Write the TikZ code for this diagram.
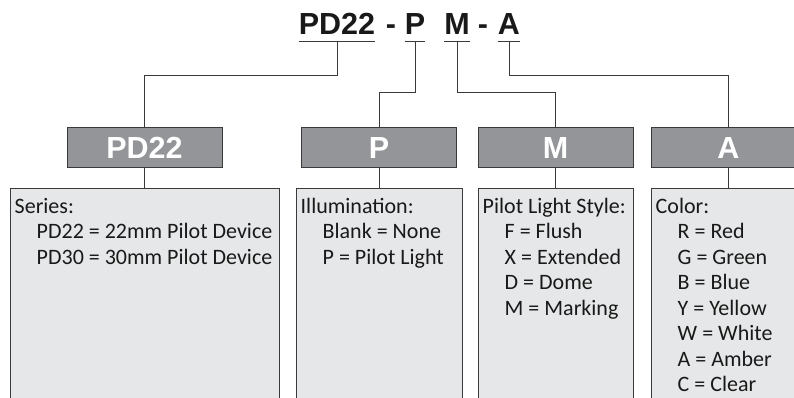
\documentclass[tikz,border=0pt]{standalone}
\usepackage{fontspec}
\setmainfont{Carlito}
\newfontfamily\codefont{Liberation Sans}
\usetikzlibrary{calc}

\definecolor{hdrgray}{HTML}{939598}
\definecolor{boxgray}{HTML}{E6E7E8}
\definecolor{linegray}{HTML}{3A3A3A}

\tikzset{
  code/.style={inner sep=0pt, anchor=base, text=black!90, font=\codefont\bfseries\fontsize{30.5}{30.5}\selectfont},
  hdr/.style={draw=linegray, line width=1pt, fill=hdrgray, minimum width=155pt, minimum height=40pt, inner sep=0pt, text=white, font=\codefont\bfseries\fontsize{30.5}{30.5}\selectfont},
  info/.style={draw=linegray, line width=1pt, fill=boxgray, anchor=north, minimum height=240pt, inner sep=0pt},
  infotext/.style={anchor=north west, inner xsep=5pt, inner ysep=0pt, align=left, text=black!90, font=\fontsize{22}{25.5}\selectfont},
  link/.style={draw=linegray, line width=1pt}
}
\newcommand{\sub}{\\\hspace*{22pt}}

\begin{document}
\begin{tikzpicture}[x=1pt,y=-1pt]
\useasboundingbox (0,0) rectangle (794,398);
\clip (0,0) rectangle (794,398);

% the ordering code
\node[code] (cSeries) at (337,35) {PD22};
\node[code] (dashA) at (391,35) {-};
\node[code] (cIllum) at (415,35) {P};
\node[code] (cStyle) at (457,35) {M};
\node[code] (dashB) at (483,35) {-};
\node[code] (cColor) at (509,35) {A};
\foreach \c in {cSeries,cIllum,cStyle,cColor}
  \draw[link] ([yshift=-7pt]\c.base west) -- ([yshift=-7pt]\c.base east);

% headers
\node[hdr] (hSeries) at (144.5,148) {PD22};
\node[hdr] (hIllum) at (379,148) {P};
\node[hdr] (hStyle) at (555.5,148) {M};
\node[hdr] (hColor) at (728.5,148) {A};

% boxes
\node[info, minimum width=269pt] (iSeries) at (144.5,188) {};
\node[info, minimum width=166pt] (iIllum) at (379,188) {};
\node[info, minimum width=155pt] (iStyle) at (555.5,188) {};
\node[info, minimum width=155pt] (iColor) at (728.5,188) {};

\node[infotext] (tSeries) at (iSeries.north west) {\rule{0pt}{25pt}Series:\sub PD22 = 22mm Pilot Device\sub PD30 = 30mm Pilot Device};
\node[infotext] (tIllum) at (iIllum.north west) {\rule{0pt}{25pt}Illumination:\sub Blank = None\sub P = Pilot Light};
\node[infotext] (tStyle) at (iStyle.north west) {\rule{0pt}{25pt}Pilot Light Style:\sub F = Flush\sub X = Extended\sub D = Dome\sub M = Marking};
\node[infotext] (tColor) at (iColor.north west) {\rule{0pt}{25pt}Color:\sub R = Red\sub G = Green\sub B = Blue\sub Y = Yellow\sub W = White\sub A = Amber\sub C = Clear};

% connectors
\draw[link] ([yshift=-7pt]cSeries.base) -- ++(0,34) -| (hSeries.north);
\draw[link] ([yshift=-7pt]cIllum.base) -- ++(0,51) -| (hIllum.north);
\draw[link] ([yshift=-7pt]cStyle.base) -- ++(0,51) -| (hStyle.north);
\draw[link] ([yshift=-7pt]cColor.base) -- ++(0,34) -| (hColor.north);
\foreach \n in {Series,Illum,Style,Color}
  \draw[link] (h\n.south) -- (i\n.north);
\end{tikzpicture}
\end{document}
